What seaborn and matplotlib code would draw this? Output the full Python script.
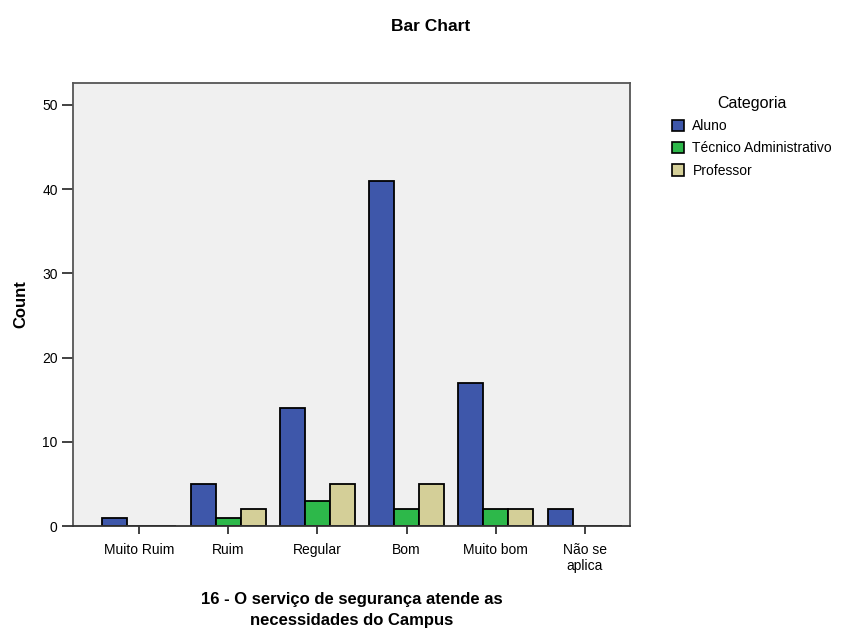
import numpy as np
import pandas as pd
import seaborn as sns
import matplotlib.pyplot as plt

# data
categorias_x = ['Muito Ruim', 'Ruim', 'Regular', 'Bom', 'Muito bom', 'Não se\naplica']
grupos = ['Aluno', 'Técnico Administrativo', 'Professor']
aluno = [1, 5, 14, 41, 17, 2]
tecnico = [0, 1, 3, 2, 2, 0]
professor = [0, 2, 5, 5, 2, 0]
cores = ['#3E57AA', '#2DB84A', '#D4CF98']

df = pd.DataFrame({
    'resposta': categorias_x * 3,
    'Categoria': np.repeat(grupos, len(categorias_x)),
    'Count': aluno + tecnico + professor,
})

sns.set_style('white')
plt.rcParams['font.family'] = ['Liberation Sans', 'DejaVu Sans']
plt.rcParams['text.color'] = 'black'
plt.rcParams['axes.labelcolor'] = 'black'
plt.rcParams['xtick.color'] = 'black'
plt.rcParams['ytick.color'] = 'black'

fig = plt.figure(figsize=(8.44, 6.32), dpi=100)
ax = fig.add_axes([0.0865, 0.1677, 0.6595, 0.701])
ax.set_facecolor('#F0F0F0')

_ = sns.barplot(data=df, x='resposta', y='Count', hue='Categoria',
                hue_order=grupos, palette=cores, order=categorias_x,
                saturation=1, width=0.84, edgecolor='black', linewidth=1.3, ax=ax)

ax.set_ylim(0, 52.6)
ax.set_xlim(-0.74, 5.5)
ax.set_yticks([0, 10, 20, 30, 40, 50])
ax.tick_params(axis='y', direction='out', length=8, width=1.3, color='#333333',
               labelsize=10, left=True, pad=3)
ax.tick_params(axis='x', direction='out', length=6, width=1.3, color='#333333',
               labelsize=10, bottom=True, pad=6)
for s in ax.spines.values():
    s.set_color('#555555')
    s.set_linewidth(1.3)
ax.spines['bottom'].set_color('#333333')

_ = ax.set_ylabel('Count', fontsize=12, fontweight='bold', labelpad=10)
_ = ax.set_xlabel('16 - O serviço de segurança atende as\nnecessidades do Campus',
                  fontsize=12, fontweight='bold', labelpad=14, linespacing=1.5)
fig.suptitle('Bar Chart', x=0.51, y=0.97, fontsize=12.5, fontweight='bold')

leg = ax.legend(title='Categoria', loc='upper left', bbox_to_anchor=(1.058, 0.993),
                frameon=False, fontsize=10, title_fontsize=11.5,
                handlelength=0.9, handleheight=0.9, handletextpad=0.6,
                labelspacing=0.6, borderaxespad=0.3)
for h in leg.legend_handles:
    h.set_edgecolor('black')
    h.set_linewidth(1.2)

fig.savefig('out.png', dpi=100)
